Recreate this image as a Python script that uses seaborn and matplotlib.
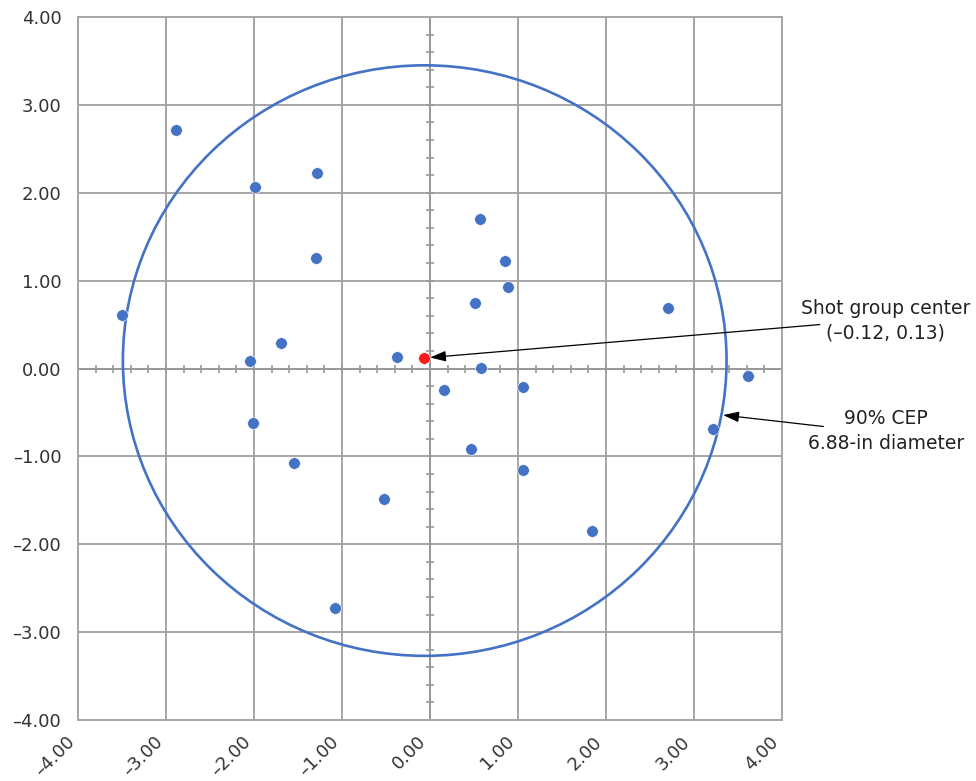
import matplotlib.pyplot as plt
from matplotlib.patches import Ellipse
import numpy as np
import pandas as pd
import seaborn as sns

# shot impacts (inches)
shot_x = [-2.89, -1.99, -1.28, -1.30, -3.50, -1.69, -2.04, -0.37,
          0.57, 0.85, 0.89, 0.51, 2.71, 0.58, 0.16, 1.06, 3.61, 3.22,
          -2.01, -1.55, 0.47, 1.06, -0.52, 1.84, -1.08]
shot_y = [2.71, 2.06, 2.23, 1.26, 0.61, 0.29, 0.08, 0.13,
          1.70, 1.22, 0.93, 0.74, 0.69, 0.01, -0.25, -0.21, -0.09, -0.69,
          -0.62, -1.07, -0.92, -1.16, -1.49, -1.85, -2.73]

# shot group center as drawn
center_x = [-0.07]
center_y = [0.12]

# 90% CEP circle as drawn
cep_x, cep_y = -0.06, 0.09
cep_width, cep_height = 6.86, 6.72

ticks = [-4, -3, -2, -1, 0, 1, 2, 3, 4]
tick_labels = [f"{t:.2f}".replace("-", "\u2013") for t in ticks]
minor = np.round(np.arange(-4, 4.01, 0.2), 2)
minor = minor[np.abs(minor) > 1e-9]

blue = "#4472C4"
grid_color = "#A6A6A6"

sns.set_style("white")
plt.rcParams["font.family"] = ["DejaVu Sans"]

fig = plt.figure(figsize=(9.76, 7.81), dpi=100)
ax = fig.add_axes([78 / 976, 1 - 720 / 781, (782 - 78) / 976, (720 - 17) / 781])

ax.set_xlim(-4, 4)
ax.set_ylim(-4, 4)
ax.set_xticks(ticks)
ax.set_yticks(ticks)
ax.set_xticklabels(tick_labels, rotation=45, ha="right", va="top")
ax.set_yticklabels(tick_labels)
ax.tick_params(axis="both", length=0, labelsize=13, colors="#333333")
ax.tick_params(axis="x", pad=9)
ax.tick_params(axis="y", pad=12)
ax.grid(True, color=grid_color, linewidth=1.4)
for s in ax.spines.values():
    s.set_color(grid_color)
    s.set_linewidth(1.4)

# center axes with minor cross ticks
ax.axhline(0, color="#999999", linewidth=1.4, zorder=1)
ax.axvline(0, color="#999999", linewidth=1.4, zorder=1)
ax.plot(minor, np.zeros_like(minor), linestyle="none", marker="|",
        markersize=6, markeredgewidth=1.2, color="#999999", zorder=1)
ax.plot(np.zeros_like(minor), minor, linestyle="none", marker="_",
        markersize=6, markeredgewidth=1.2, color="#999999", zorder=1)

ax.add_patch(Ellipse((cep_x, cep_y), cep_width, cep_height, fill=False,
                     edgecolor=blue, linewidth=1.9, zorder=2))

shots = pd.DataFrame({"x": shot_x, "y": shot_y})
sns.scatterplot(data=shots, x="x", y="y", color=blue, s=70,
                edgecolor="white", linewidth=0.4, ax=ax, zorder=3)
sns.scatterplot(x=center_x, y=center_y, color="#FF1A1A", s=70,
                edgecolor="white", linewidth=0.4, ax=ax, zorder=4)
ax.set_xlabel("")
ax.set_ylabel("")

arrow = dict(arrowstyle="-|>,head_length=0.6,head_width=0.2", color="black",
             lw=0.9, mutation_scale=16, shrinkA=0, shrinkB=0)
ax.annotate("", xy=(0.0, 0.125), xytext=(4.43, 0.50), arrowprops=arrow,
            annotation_clip=False)
ax.annotate("", xy=(3.33, -0.53), xytext=(4.47, -0.66), arrowprops=arrow,
            annotation_clip=False)
ax.text(5.18, 0.54, "Shot group center\n(\u20130.12, 0.13)", ha="center",
        va="center", fontsize=13.5, linespacing=1.35, color="#222222", clip_on=False)
ax.text(5.18, -0.71, "90% CEP\n6.88-in diameter", ha="center",
        va="center", fontsize=13.5, linespacing=1.35, color="#222222", clip_on=False)

fig.savefig("out.png", dpi=100)
